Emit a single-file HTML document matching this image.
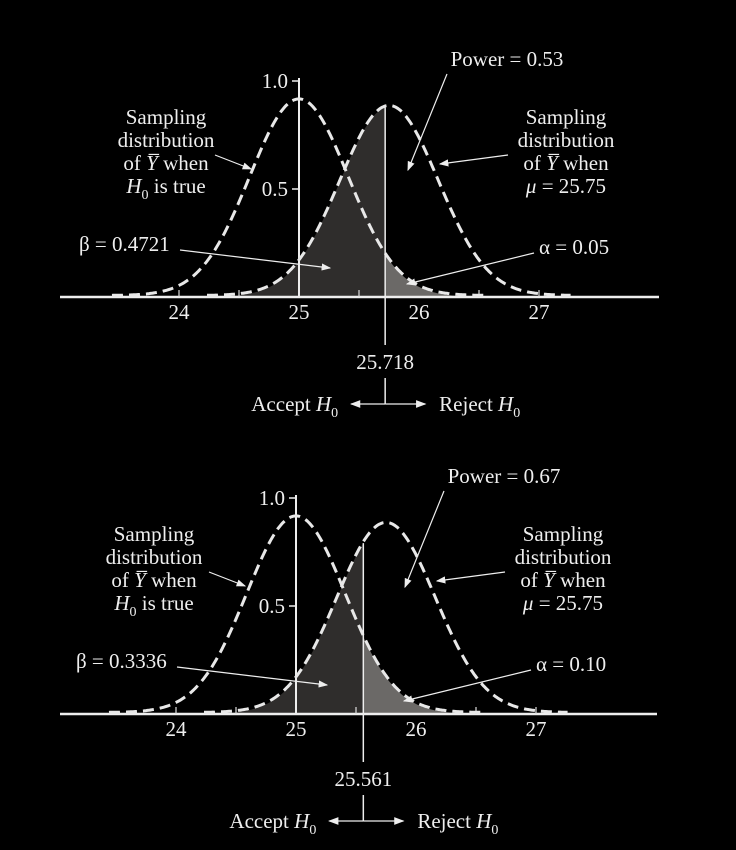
<!DOCTYPE html>
<html><head><meta charset="utf-8"><style>
html,body{margin:0;padding:0;background:#000;}
svg{display:block;}
text{font-family:"Liberation Serif",serif;fill:#eee;font-size:21px;}
</style></head><body>
<svg id="chart" width="736" height="850" viewBox="0 0 736 850" xmlns="http://www.w3.org/2000/svg">
<defs><marker id="ah" markerWidth="8" markerHeight="6" refX="7" refY="3" orient="auto"><path d="M0,0 L8,3 L0,6 z" fill="#eee"/></marker></defs>
</svg>
<script>
const panelOffsets = [0, 417];
const criticalValues = [25.718, 25.561];
const criticalLabels = ["25.718", "25.561"];
const powerLabels = ["Power = 0.53", "Power = 0.67"];
const betaLabels = ["\u03B2 = 0.4721", "\u03B2 = 0.3336"];
const alphaLabels = ["\u03B1 = 0.05", "\u03B1 = 0.10"];
const nullMeans = [25, 25];
const altMeans = [25.75, 25.75];
const peakHeights = [0.91, 0.88];
const sigma = 0.41;
const xTicks = [24, 25, 26, 27];
const yTicks = [0.5, 1.0];
const minorTicks = [24, 24.5, 25.5, 26.5, 27];

const svg = document.getElementById('chart');
const NS = 'http://www.w3.org/2000/svg';
function mk(tag, attrs, parent) {
  const e = document.createElementNS(NS, tag);
  for (const k in attrs) e.setAttribute(k, attrs[k]);
  (parent || svg).appendChild(e);
  return e;
}
function txt(s, x, y, anchor, parent) {
  const t = mk('text', {x: x, y: y, 'text-anchor': anchor || 'start'}, parent);
  t.innerHTML = s;
  return t;
}

panelOffsets.forEach((off, p) => {
  const g = mk('g', {});
  
  
  const x0 = 299 - p * 3, unit = 120, base = 297 + off, hUnit = 216;
  const X = v => x0 + (v - 25) * unit;
  const Y = v => base - v * hUnit;
  const f = (v, m, pk) => pk * Math.exp(-Math.pow(v - m, 2) / (2 * sigma * sigma));
  const c = criticalValues[p], m0 = nullMeans[p], m1 = altMeans[p];
  let d = 'M' + X(m1 - 3.7 * sigma) + ',' + base;
  for (let v = m1 - 3.7 * sigma; v <= c; v += 0.01) d += ' L' + X(v).toFixed(1) + ',' + Y(f(v, m1, peakHeights[1])).toFixed(1);
  d += ' L' + X(c) + ',' + Y(f(c, m1, peakHeights[1])) + ' L' + X(c) + ',' + base + 'Z';
  const beta = mk('path', {d: d, fill: '#2f2d2c'}, g);
  
  
  d = 'M' + X(c) + ',' + base;
  for (let v = c; v <= m0 + 3.8 * sigma; v += 0.01) d += ' L' + X(v).toFixed(1) + ',' + Y(f(v, m0, peakHeights[0])).toFixed(1);
  d += ' L' + X(m0 + 3.8 * sigma) + ',' + base + 'Z';
  const alpha = mk('path', {d: d, fill: '#6b6967'}, g);
  
  
  const xa = mk('line', {x1: 60, x2: 659 - p * 2, y1: base, y2: base, stroke: '#eee', 'stroke-width': 2.5}, g);
  
  
  const ya = mk('line', {x1: X(25), x2: X(25), y1: Y(1.0) - 3, y2: base, stroke: '#eee', 'stroke-width': 2}, g);
  
  
  yTicks.forEach(t => {
    mk('line', {x1: X(25) - 7, x2: X(25), y1: Y(t), y2: Y(t), stroke: '#eee', 'stroke-width': 1.5}, g);
    const l = txt(t.toFixed(1), X(25) - 11, Y(t) + 7, 'end', g);
    
    
  });
  minorTicks.forEach(t => mk('line', {x1: X(t), x2: X(t), y1: base - 7, y2: base, stroke: '#ddd', 'stroke-width': 1.2}, g));
  xTicks.forEach(t => {
    const l = txt(String(t), X(t), base + 22, 'middle', g);
    
    
  });
  [[m0, peakHeights[0], 3.8], [m1, peakHeights[1], 3.7]].forEach((cv, i) => {
    let dd = '';
    for (let v = cv[0] - cv[2] * sigma; v <= cv[0] + cv[2] * sigma + 0.001; v += 0.01)
      dd += (dd ? ' L' : 'M') + X(v).toFixed(1) + ',' + (Y(f(v, cv[0], cv[1])) - 1.5).toFixed(1);
    const cp = mk('path', {d: dd, fill: 'none', stroke: '#e8e8e8', 'stroke-width': 3, 'stroke-dasharray': '11 6'}, g);
    
    
  });
  const cx = X(c);
  const cl = mk('line', {x1: cx, x2: cx, y1: Y(f(c, m1, peakHeights[1])), y2: base + 48, stroke: '#eee', 'stroke-width': 1.5}, g);
  
  
  const ct = txt(criticalLabels[p], cx, base + 72, 'middle', g);
  
  
  mk('line', {x1: cx, x2: cx, y1: base + 81, y2: base + 107, stroke: '#eee', 'stroke-width': 1.5}, g);
  mk('line', {x1: cx, x2: cx - 34, y1: base + 107, y2: base + 107, stroke: '#eee', 'stroke-width': 1.3, 'marker-end': 'url(#ah)'}, g);
  mk('line', {x1: cx, x2: cx + 40, y1: base + 107, y2: base + 107, stroke: '#eee', 'stroke-width': 1.3, 'marker-end': 'url(#ah)'}, g);
  const acc = txt('Accept <tspan font-style="italic">H</tspan><tspan font-size="14" dy="6">0</tspan>', cx - 47, base + 114, 'end', g);
  
  
  const rej = txt('Reject <tspan font-style="italic">H</tspan><tspan font-size="14" dy="6">0</tspan>', cx + 54, base + 114, 'start', g);
  
  
  const dx = -p * 3;
  const pw = txt(powerLabels[p], 507 + dx, 66 + off, 'middle', g);
  
  
  mk('line', {x1: 447 + dx, y1: 74 + off, x2: 408 + dx, y2: 170 + off, stroke: '#eee', 'stroke-width': 1.2, 'marker-end': 'url(#ah)'}, g);
  const lines1 = ['Sampling', 'distribution', 'of <tspan font-style="italic">Y\u0305</tspan> when', '<tspan font-style="italic">H</tspan><tspan font-size="14" dy="6">0</tspan><tspan dy="-6"> is true</tspan>'];
  lines1.forEach((s, i) => {
    const t = txt(s, 166 + dx * 4, 124 + i * 23 + off, 'middle', g);
    
    
  });
  mk('line', {x1: 215 + dx * 2, y1: 155 + off, x2: 251 + dx * 2, y2: 169 + off, stroke: '#eee', 'stroke-width': 1.2, 'marker-end': 'url(#ah)'}, g);
  const lines2 = ['Sampling', 'distribution', 'of <tspan font-style="italic">Y\u0305</tspan> when', '<tspan font-style="italic">\u03BC</tspan> = 25.75'];
  lines2.forEach((s, i) => {
    const t = txt(s, 566 + dx, 124 + i * 23 + off, 'middle', g);
    
    
  });
  mk('line', {x1: 508 + dx, y1: 155 + off, x2: 440 + dx, y2: 164 + off, stroke: '#eee', 'stroke-width': 1.2, 'marker-end': 'url(#ah)'}, g);
  const bl = txt(betaLabels[p], 79 + dx, 251 + off, 'start', g);
  
  
  mk('line', {x1: 180 + dx, y1: 250 + off, x2: 330 + dx, y2: 268 + off, stroke: '#eee', 'stroke-width': 1.2, 'marker-end': 'url(#ah)'}, g);
  const al = txt(alphaLabels[p], 539 + dx, 254 + off, 'start', g);
  
  
  mk('line', {x1: 534 + dx, y1: 253 + off, x2: 407 + dx, y2: 284 + off, stroke: '#eee', 'stroke-width': 1.2, 'marker-end': 'url(#ah)'}, g);
});
</script>
</body></html>
